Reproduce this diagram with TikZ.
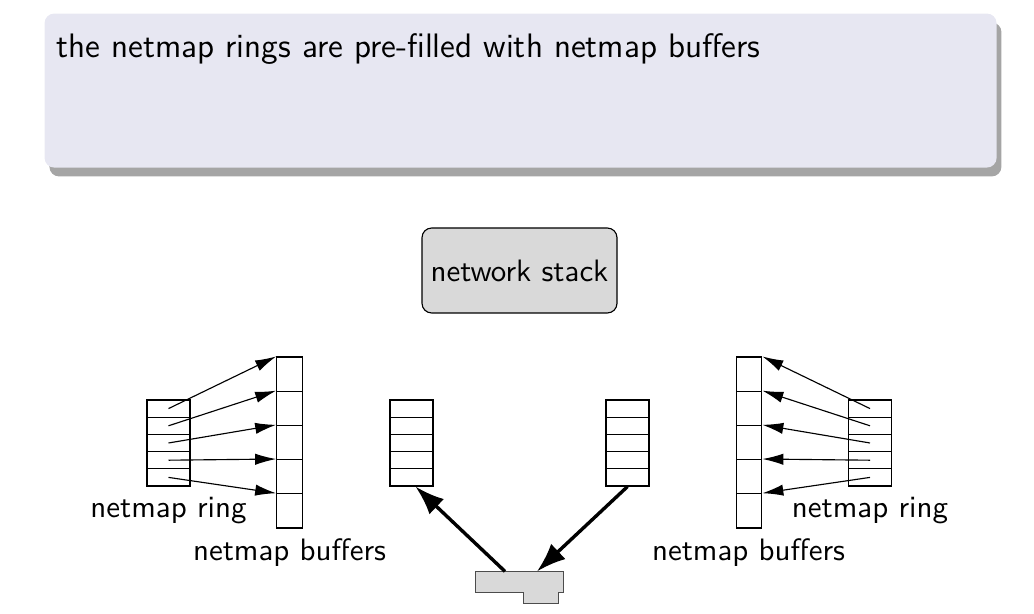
\documentclass[tikz,border=0pt]{standalone}
\usepackage{xcolor}
\usepackage{tikz}
\usetikzlibrary{positioning}
\usetikzlibrary{shadows}
\usetikzlibrary{arrows.meta}
\definecolor{blockbg}{RGB}{231,231,242}
\definecolor{stackgray}{RGB}{217,217,217}

\begin{document}
\begin{tikzpicture}[x=0.1238mm,y=-0.1238mm,
font=\sffamily\fontsize{10.9}{13}\selectfont,
ringslot/.style={draw,inner sep=0pt,minimum width=43*0.1238mm,minimum height=17.2*0.1238mm},
bufslot/.style={draw,inner sep=0pt,minimum width=25.5*0.1238mm,minimum height=34.2*0.1238mm},
lbl/.style={inner sep=0pt}]
\useasboundingbox (0,0) rectangle (1034,614);

%block:
\node[draw=none,fill=blockbg,rounded corners=1.2mm,
drop shadow={shadow xshift=0.6mm,shadow yshift=-1.1mm,opacity=0.5,fill=black!70},
minimum width=952*0.1238mm,minimum height=154*0.1238mm,anchor=north west,inner sep=0pt] (blk) at (44,13) {};
\node[lbl,anchor=base west,font=\sffamily\fontsize{11.95}{14}\selectfont] (title) at (56,58) {the netmap rings are pre-filled with netmap buffers};

%stack:
\node[draw,fill=stackgray,rounded corners=1.2mm,
minimum width=195*0.1238mm,minimum height=85*0.1238mm,inner sep=0pt] (stack) at (519.5,270.5) {};
\node[lbl] (stacktxt) at (stack) {network stack};

%----------left
\foreach \i in {1,...,5}{%
\node[ringslot] (lr\i) at (168.5,400+17.2*\i-8.6) {};%
}
\foreach \i in {1,...,5}{%
\node[bufslot] (lb\i) at (289.5,357+34.2*\i-17.1) {};%
}
\foreach \i in {1,...,5}{%
\draw[-{Latex[length=2.6mm,width=1.4mm]}] (lr\i.center) -- (lb\i.north west);
}
\node[lbl] (lrtxt) at (168.5,511) {netmap ring};
\node[lbl] (lbtxt) at (289.5,553) {netmap buffers};

%----------middle
\foreach \i in {1,...,5}{%
\node[ringslot] (mlr\i) at (411.5,400+17.2*\i-8.6) {};%
\node[ringslot] (mrr\i) at (627.5,400+17.2*\i-8.6) {};%
}

%----------right
\foreach \i in {1,...,5}{%
\node[ringslot] (rr\i) at (870,400+17.2*\i-8.6) {};%
}
\foreach \i in {1,...,5}{%
\node[bufslot] (rb\i) at (749,357+34.2*\i-17.1) {};%
}
\foreach \i in {1,...,5}{%
\draw[-{Latex[length=2.6mm,width=1.4mm]}] (rr\i.center) -- (rb\i.north east);
}
\node[lbl] (rrtxt) at (870,511) {netmap ring};
\node[lbl] (rbtxt) at (748.5,553) {netmap buffers};

%nic:
\node[inner sep=0pt,minimum width=87*0.1238mm,minimum height=20*0.1238mm] (nic) at (519.5,582) {};
\draw[fill=stackgray,draw=black!70] (nic.north west) -- (nic.north east) -- (nic.south east)
-- ++(-5,0) -- ++(0,11) -- ++(-35,0) -- ++(0,-11) -- (nic.south west) -- cycle;

%thick arrows:
\draw[very thick,-{Latex[length=3.6mm,width=2.6mm]}] ([xshift=-14.5*0.1238mm]nic.north) -- ([xshift=4*0.1238mm]mlr5.south);
\draw[very thick,-{Latex[length=3.6mm,width=2.6mm]}] (mrr5.south) -- ([xshift=17.5*0.1238mm]nic.north);

\end{tikzpicture}
\end{document}
